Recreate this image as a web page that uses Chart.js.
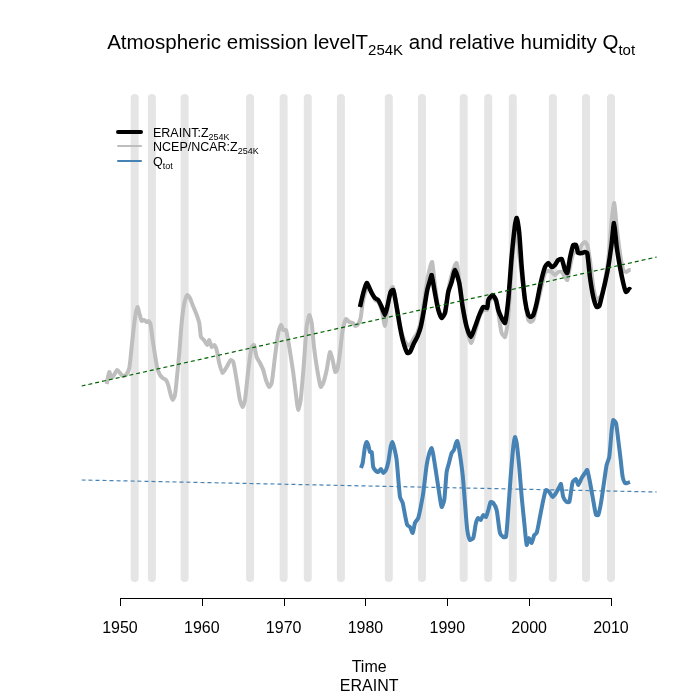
<!DOCTYPE html>
<html>
<head>
<meta charset="utf-8">
<script src="https://cdn.jsdelivr.net/npm/chart.js@4"></script>
<style>
  html, body { margin: 0; padding: 0; background: #fff; }
  #wrap { width: 700px; height: 700px; }
</style>
</head>
<body>
<div id="wrap"><canvas id="chart" width="700" height="700"></canvas></div>
<script>
// NCEP/NCAR Z254K (grey)
var ncepYears = [
  1948.37, 1948.69, 1948.99, 1949.27, 1949.67, 1950.00, 1950.33, 1950.73, 1951.14, 1951.43,
  1951.75, 1951.96, 1952.16, 1952.36, 1952.65, 1952.93, 1953.26, 1953.51, 1953.75, 1954.00,
  1954.28, 1954.56, 1954.89, 1955.22, 1955.62, 1955.90, 1956.20, 1956.44, 1956.72, 1956.93,
  1957.25, 1957.54, 1957.82, 1958.22, 1958.55, 1958.88, 1959.29, 1959.69, 1959.90, 1960.26,
  1960.67, 1960.91, 1961.21, 1961.52, 1961.82, 1962.13, 1962.55, 1963.04, 1963.53, 1963.85,
  1964.26, 1964.66, 1964.99, 1965.28, 1965.68, 1966.09, 1966.37, 1966.70, 1967.11, 1967.51,
  1967.84, 1968.24, 1968.54, 1968.94, 1969.34, 1969.67, 1969.96, 1970.29, 1970.69, 1971.18,
  1971.59, 1971.79, 1972.08, 1972.48, 1972.81, 1973.13, 1973.43, 1973.71, 1974.11, 1974.53,
  1974.84, 1975.26, 1975.66, 1975.99, 1976.31, 1976.55, 1976.88, 1977.21, 1977.62, 1978.02,
  1978.44, 1978.75, 1979.12, 1979.41, 1979.66, 1979.94,
  1980.15, 1980.43, 1980.76, 1981.16, 1981.56, 1981.98, 1982.38, 1982.66, 1983.08, 1983.35,
  1983.81, 1984.22, 1984.62, 1985.11, 1985.44, 1985.93, 1986.33, 1986.75, 1987.15, 1987.55,
  1987.97, 1988.15, 1988.49, 1988.90, 1989.31, 1989.72, 1990.12, 1990.53, 1990.94, 1991.15,
  1991.46, 1991.88, 1992.37, 1992.89, 1993.38, 1993.91, 1994.39, 1994.88, 1995.01, 1995.55,
  1995.95, 1996.23, 1996.64, 1997.05, 1997.45, 1997.86, 1998.27, 1998.48, 1998.79, 1999.09,
  1999.49, 1999.89, 2000.19, 2000.51, 2000.92, 2001.41, 2001.94, 2002.34, 2002.75, 2003.16,
  2003.56, 2003.98, 2004.38, 2004.66, 2004.99, 2005.39, 2005.72, 2006.00, 2006.42, 2006.82,
  2007.10, 2007.43, 2007.84, 2008.25, 2008.57, 2008.86, 2009.27, 2009.67, 2010.09, 2010.40,
  2010.70, 2011.10, 2011.50, 2011.83, 2012.24, 2012.41
];
var ncepValues = [
  0.16, 0.28, 0.22, 0.25, 0.30, 0.27, 0.24, 0.25, 0.32, 0.53,
  0.77, 0.88, 0.93, 0.87, 0.79, 0.80, 0.78, 0.79, 0.75, 0.60,
  0.45, 0.32, 0.25, 0.22, 0.20, 0.15, 0.05, 0.00, 0.05, 0.20,
  0.47, 0.77, 0.95, 1.05, 1.02, 0.95, 0.87, 0.77, 0.63, 0.60,
  0.55, 0.60, 0.53, 0.55, 0.50, 0.37, 0.27, 0.33, 0.40, 0.38,
  0.20, 0.00, -0.07, 0.00, 0.30, 0.53, 0.55, 0.43, 0.37, 0.30,
  0.20, 0.13, 0.17, 0.43, 0.67, 0.75, 0.70, 0.70, 0.53, 0.27,
  0.00, -0.10, 0.00, 0.37, 0.73, 0.85, 0.77, 0.53, 0.30, 0.13,
  0.17, 0.30, 0.48, 0.40, 0.28, 0.30, 0.47, 0.70, 0.81, 0.78,
  0.77, 0.74, 0.76, 0.82, 0.97, 1.07,
  1.10, 1.12, 1.08, 1.00, 0.98, 0.90, 0.74, 0.90, 1.10, 1.13,
  0.95, 0.75, 0.62, 0.55, 0.55, 0.62, 0.67, 0.78, 0.98, 1.20,
  1.35, 1.38, 1.15, 0.92, 0.82, 0.88, 1.10, 1.25, 1.35, 1.37,
  1.20, 0.95, 0.72, 0.57, 0.68, 0.83, 0.90, 0.90, 0.97, 1.03,
  0.98, 0.87, 0.67, 0.63, 0.83, 1.33, 1.67, 1.70, 1.45, 1.25,
  1.00, 0.80, 0.78, 0.80, 0.93, 1.10, 1.27, 1.29, 1.28, 1.25,
  1.28, 1.28, 1.23, 1.20, 1.33, 1.47, 1.48, 1.47, 1.55, 1.58,
  1.55, 1.40, 1.13, 1.00, 1.02, 1.05, 1.20, 1.40, 1.80, 1.97,
  1.73, 1.47, 1.30, 1.28, 1.30, 1.30
];

// ERAINT Z254K (black)
var eraYears = [
  1979.33, 1979.73, 1980.15, 1980.43, 1980.76, 1981.16, 1981.56, 1981.98, 1982.38, 1982.66,
  1983.08, 1983.40, 1983.81, 1984.22, 1984.62, 1985.11, 1985.44, 1985.93, 1986.33, 1986.75,
  1987.15, 1987.55, 1987.97, 1988.09, 1988.49, 1988.90, 1989.31, 1989.72, 1990.12, 1990.53,
  1990.94, 1991.46, 1991.88, 1992.37, 1992.89, 1993.38, 1993.91, 1994.39, 1994.88, 1995.01,
  1995.55, 1995.95, 1996.23, 1996.64, 1997.05, 1997.45, 1997.86, 1998.27, 1998.48, 1998.79,
  1999.09, 1999.49, 1999.89, 2000.19, 2000.51, 2000.92, 2001.41, 2001.94, 2002.34, 2002.75,
  2003.16, 2003.56, 2003.98, 2004.38, 2004.66, 2004.99, 2005.39, 2005.72, 2006.00, 2006.42,
  2006.82, 2007.10, 2007.43, 2007.84, 2008.25, 2008.57, 2008.86, 2009.27, 2009.67, 2010.09,
  2010.37, 2010.70, 2011.10, 2011.50, 2011.83, 2012.24, 2012.41
];
var eraValues = [
  0.93, 1.07, 1.17, 1.13, 1.07, 1.02, 1.00, 0.93, 0.85, 0.93,
  1.08, 1.10, 0.93, 0.73, 0.58, 0.47, 0.48, 0.57, 0.63, 0.73,
  0.90, 1.10, 1.22, 1.25, 1.07, 0.90, 0.82, 0.87, 1.08, 1.18,
  1.30, 1.17, 0.93, 0.73, 0.63, 0.73, 0.85, 0.93, 0.92, 1.00,
  1.05, 1.00, 0.90, 0.82, 0.77, 1.00, 1.43, 1.75, 1.82, 1.67,
  1.33, 1.00, 0.85, 0.83, 0.85, 0.97, 1.17, 1.33, 1.37, 1.33,
  1.35, 1.40, 1.41, 1.30, 1.27, 1.42, 1.55, 1.55, 1.47, 1.47,
  1.48, 1.47, 1.23, 1.03, 0.93, 0.94, 1.03, 1.17, 1.33, 1.57,
  1.77, 1.53, 1.33, 1.17, 1.08, 1.11, 1.10
];

// Qtot (steelblue)
var qYears = [
  1979.45, 1979.66, 1979.94, 1980.15, 1980.34, 1980.55, 1980.76, 1980.95, 1981.28, 1981.56,
  1981.89, 1982.18, 1982.51, 1982.79, 1983.08, 1983.28, 1983.52, 1983.81, 1984.22, 1984.55,
  1984.83, 1985.11, 1985.44, 1985.77, 1986.05, 1986.45, 1986.75, 1987.06, 1987.48, 1987.80,
  1988.09, 1988.29, 1988.62, 1988.95, 1989.31, 1989.63, 1989.92, 1990.24, 1990.53, 1990.81,
  1991.06, 1991.22, 1991.46, 1991.88, 1992.16, 1992.44, 1992.77, 1993.17, 1993.50, 1993.78,
  1994.08, 1994.40, 1994.73, 1995.01, 1995.30, 1995.62, 1996.03, 1996.44, 1996.84, 1997.17,
  1997.45, 1997.74, 1998.06, 1998.27, 1998.48, 1998.79, 1999.09, 1999.41, 1999.70, 1999.98,
  2000.31, 2000.63, 2000.92, 2001.32, 2001.73, 2002.06, 2002.46, 2002.88, 2003.28, 2003.68,
  2003.89, 2004.17, 2004.59, 2004.91, 2005.32, 2005.72, 2006.00, 2006.42, 2006.82, 2007.10,
  2007.43, 2007.76, 2008.17, 2008.45, 2008.78, 2009.14, 2009.47, 2009.79, 2010.09, 2010.28,
  2010.61, 2010.89, 2011.19, 2011.43, 2011.71, 2011.99, 2012.32
];
var qValues = [
  -0.68, -0.63, -0.47, -0.42, -0.45, -0.52, -0.52, -0.67, -0.71, -0.72,
  -0.69, -0.73, -0.70, -0.62, -0.47, -0.42, -0.48, -0.60, -0.97, -1.03,
  -1.15, -1.25, -1.27, -1.33, -1.23, -1.18, -1.07, -0.93, -0.65, -0.53,
  -0.48, -0.55, -0.72, -0.90, -1.07, -1.00, -0.72, -0.62, -0.53, -0.50,
  -0.43, -0.41, -0.50, -0.75, -1.03, -1.30, -1.40, -1.38, -1.23, -1.18,
  -1.20, -1.15, -1.17, -1.10, -1.02, -1.03, -1.10, -1.33, -1.37, -1.37,
  -1.10, -0.77, -0.47, -0.37, -0.43, -0.67, -0.97, -1.23, -1.45, -1.38,
  -1.43, -1.35, -1.33, -1.17, -1.00, -0.90, -0.92, -0.97, -0.93, -0.87,
  -0.84, -0.97, -1.02, -1.02, -0.82, -0.79, -0.85, -0.78, -0.73, -0.70,
  -0.82, -0.97, -1.15, -1.15, -1.03, -0.83, -0.65, -0.57, -0.30, -0.20,
  -0.23, -0.40, -0.60, -0.77, -0.83, -0.83, -0.82
];

// El Nino years (grey bars)
var ninoYears = [1951.8, 1953.9, 1957.9, 1965.9, 1970.0, 1972.95, 1977.0, 1982.85,
                 1986.9, 1992.0, 1995.0, 1998.0, 2002.9, 2006.95, 2010.0];
var bandRange = [3.02, -1.78];

// linear trends (start/end)
var trendYears = [1945.3, 2015.6];
var zTrend = [0.14, 1.43];
var qTrend = [-0.80, -0.92];

var tickYears = [1950, 1960, 1970, 1980, 1990, 2000, 2010];

var FONT = '"Liberation Sans", Arial, Helvetica, sans-serif';

function pts(xs, ys) {
  return xs.map(function (x, i) { return { x: x, y: ys[i] }; });
}

// text with subscripts: parts = [[text, isSub], ...]
function drawRich(ctx, parts, x, y, size, align) {
  var subSize = Math.round(size * 0.75);
  var w = 0;
  parts.forEach(function (p) {
    ctx.font = (p[1] ? subSize : size) + 'px ' + FONT;
    w += ctx.measureText(p[0]).width;
  });
  var cx = align === 'center' ? x - w / 2 : x;
  ctx.textBaseline = 'alphabetic';
  ctx.textAlign = 'left';
  parts.forEach(function (p) {
    ctx.font = (p[1] ? subSize : size) + 'px ' + FONT;
    ctx.fillText(p[0], cx, p[1] ? y + size * 0.28 : y);
    cx += ctx.measureText(p[0]).width;
  });
}

var decorPlugin = {
  id: 'decor',
  afterDraw: function (chart) {
    var ctx = chart.ctx;
    var xs = chart.scales.x;
    var area = chart.chartArea;
    ctx.save();
    ctx.fillStyle = '#000';

    // title
    drawRich(ctx, [['Atmospheric emission levelT', false], ['254K', true],
      [' and relative humidity Q', false], ['tot', true]],
      (area.left + area.right) / 2 + 2, 49, 20.5, 'center');

    // bottom axis
    var axY = 598;
    ctx.strokeStyle = '#000';
    ctx.lineWidth = 1;
    ctx.beginPath();
    ctx.moveTo(Math.round(xs.getPixelForValue(tickYears[0])) + 0.5, axY + 0.5);
    ctx.lineTo(Math.round(xs.getPixelForValue(tickYears[tickYears.length - 1])) + 0.5, axY + 0.5);
    tickYears.forEach(function (t) {
      var px = Math.round(xs.getPixelForValue(t)) + 0.5;
      ctx.moveTo(px, axY);
      ctx.lineTo(px, axY + 8);
    });
    ctx.stroke();
    ctx.font = '16px ' + FONT;
    ctx.textAlign = 'center';
    ctx.textBaseline = 'middle';
    tickYears.forEach(function (t) {
      ctx.fillText(String(t), xs.getPixelForValue(t), 629);
    });
    var mid = (area.left + area.right) / 2;
    ctx.fillText('Time', mid, 668);
    ctx.fillText('ERAINT', mid, 687);

    // legend
    var rows = [
      { y: 132, color: '#000000', w: 4, parts: [['ERAINT:Z', false], ['254K', true]] },
      { y: 146, color: '#bebebe', w: 2, parts: [['NCEP/NCAR:Z', false], ['254K', true]] },
      { y: 161, color: '#4682b4', w: 2, parts: [['Q', false], ['tot', true]] }
    ];
    rows.forEach(function (r) {
      ctx.strokeStyle = r.color;
      ctx.lineWidth = r.w;
      ctx.lineCap = 'round';
      ctx.beginPath();
      ctx.moveTo(118, r.y);
      ctx.lineTo(141, r.y);
      ctx.stroke();
      ctx.fillStyle = '#000';
      drawRich(ctx, r.parts, 153, r.y + 4.5, 12.5, 'left');
    });
    ctx.restore();
  }
};

var datasets = [];
ninoYears.forEach(function (yr) {
  datasets.push({
    data: [{ x: yr, y: bandRange[0] }, { x: yr, y: bandRange[1] }],
    borderColor: '#e5e5e5',
    borderWidth: 8,
    borderCapStyle: 'round',
    pointRadius: 0,
    order: 20
  });
});
datasets.push({
  data: pts(ncepYears, ncepValues),
  borderColor: '#bebebe', borderWidth: 4, pointRadius: 0, tension: 0.2,
  borderJoinStyle: 'round', order: 6
});
datasets.push({
  data: pts(eraYears, eraValues),
  borderColor: '#000000', borderWidth: 4.5, pointRadius: 0, tension: 0.2,
  borderJoinStyle: 'round', order: 5
});
datasets.push({
  data: pts(qYears, qValues),
  borderColor: '#4682b4', borderWidth: 4, pointRadius: 0, tension: 0.2,
  borderJoinStyle: 'round', order: 4
});
datasets.push({
  data: pts(trendYears, zTrend),
  borderColor: '#006400', borderWidth: 1.2, borderDash: [4, 3], pointRadius: 0, order: 1
});
datasets.push({
  data: pts(trendYears, qTrend),
  borderColor: '#4682b4', borderWidth: 1.2, borderDash: [4, 3], pointRadius: 0, order: 1
});

new Chart(document.getElementById('chart').getContext('2d'), {
  type: 'line',
  data: { datasets: datasets },
  options: {
    responsive: false,
    animation: false,
    layout: { padding: { left: 81.5, right: 43.2, top: 90, bottom: 110 } },
    plugins: { legend: { display: false }, tooltip: { enabled: false } },
    scales: {
      x: { type: 'linear', min: 1945.3, max: 2015.6, display: false },
      y: { type: 'linear', min: -1.9, max: 3.1, display: false }
    }
  },
  plugins: [decorPlugin]
});
</script>
</body>
</html>
